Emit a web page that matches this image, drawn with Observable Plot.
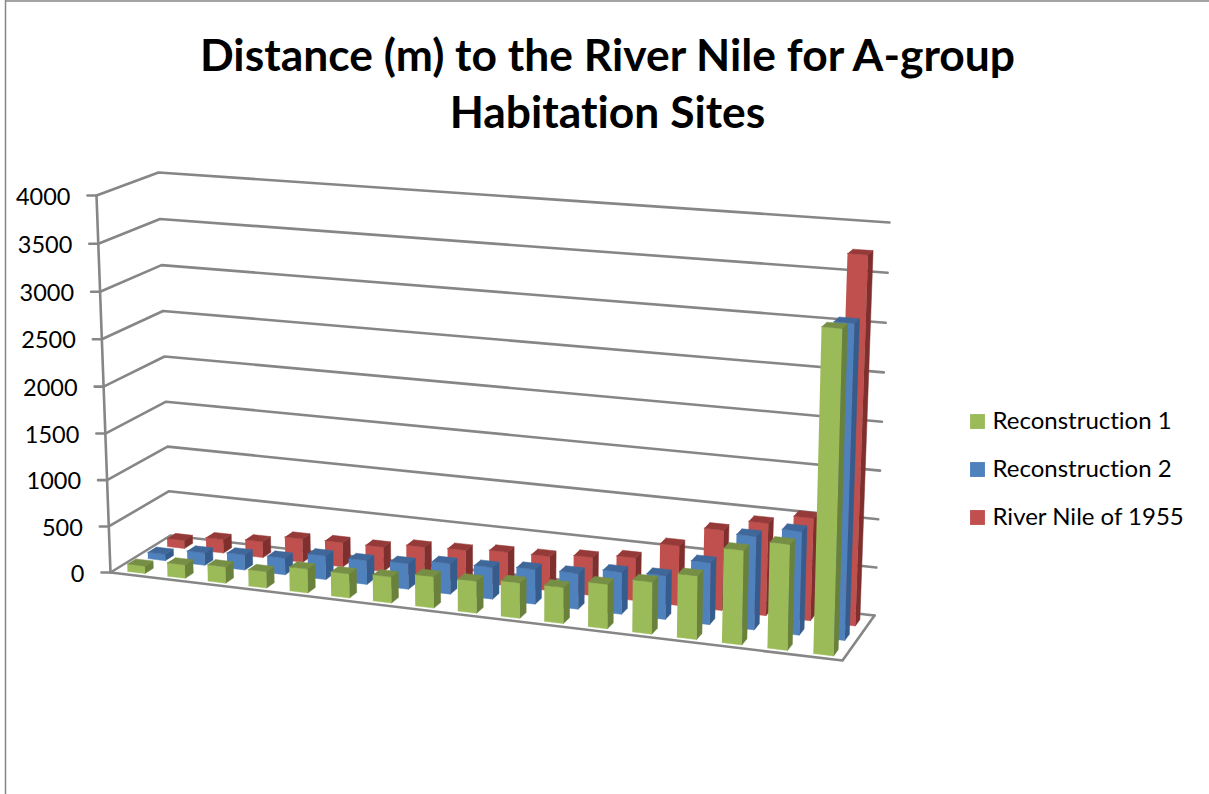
<!DOCTYPE html>
<html><head><meta charset="utf-8">
<style>html,body{margin:0;padding:0;background:#fff;overflow:hidden}svg{display:block;font-variant-ligatures:none;font-feature-settings:"liga" 0}</style>
<script src="https://cdn.jsdelivr.net/npm/d3@7"></script>
<script src="https://cdn.jsdelivr.net/npm/@observablehq/plot@0.6"></script>
</head><body><div id="chart"></div>
<script>
const titleLines = ["Distance (m) to the River Nile for A-group", "Habitation Sites"];
const ticks = [0, 500, 1000, 1500, 2000, 2500, 3000, 3500, 4000];
const reconstruction1 = [80, 145, 175, 175, 255, 255, 275, 330, 335, 370, 375, 460, 535, 650, 960, 1070, 3240];
const reconstruction2 = [70, 135, 165, 180, 255, 255, 275, 325, 335, 365, 375, 440, 455, 640, 960, 1060, 3180];
const riverNile1955 = [90, 150, 175, 255, 265, 265, 315, 330, 360, 365, 405, 450, 630, 840, 960, 1060, 3750];
const seriesNames = ["Reconstruction 1", "Reconstruction 2", "River Nile of 1955"];
const frontColors = ["#9BBB59", "#4F81BD", "#C0504D"];
const topColors = ["#768F44", "#3F679A", "#953A38"];
const sideColors = ["#6A813B", "#355C8C", "#7F2F2D"];

// Perspective box of the 3D chart: picture position of each corner
const box = {
  f0: [110, 572], f1: [842, 660], b0: [170, 535], b1: [874, 615],
  F0: [96, 195], F1: [853, 252], B0: [158, 172], B1: [889, 222]
};
const maxVal = 4000, cats = reconstruction1.length, persp = 0.925, perspZ = 0.973;
const mix = (a, b, t) => [a[0] + (b[0] - a[0]) * t, a[1] + (b[1] - a[1]) * t];
function proj(u, v, val) {
  const s = persp * u / (1 + (persp - 1) * u);
  const r = val / maxVal, w = perspZ * r / (1 + (perspZ - 1) * r);
  const floor = mix(mix(box.f0, box.f1, s), mix(box.b0, box.b1, s), v);
  const roof = mix(mix(box.F0, box.F1, s), mix(box.B0, box.B1, s), v);
  return mix(floor, roof, w);
}

const rowStart = [0.0715, 0.415, 0.74], barDepth = 0.14, barStart = 0.32, barWidth = 0.44;
const facePoints = [];
function face(id, fill, corners) {
  for (const c of corners) {
    const [x, y] = proj(...c);
    facePoints.push({id, fill, x, y});
  }
}
[riverNile1955, reconstruction2, reconstruction1].forEach((vals, k) => {
  const r = 2 - k;
  vals.forEach((val, i) => {
    const u0 = (i + barStart) / cats, u1 = (i + barStart + barWidth) / cats;
    const v0 = rowStart[r], v1 = v0 + barDepth;
    face(`${r}-${i}-front`, frontColors[r], [[u0, v0, 0], [u1, v0, 0], [u1, v0, val], [u0, v0, val]]);
    face(`${r}-${i}-side`, sideColors[r], [[u1, v0, 0], [u1, v1, 0], [u1, v1, val], [u1, v0, val]]);
    face(`${r}-${i}-top`, topColors[r], [[u0, v0, val], [u1, v0, val], [u1, v1, val], [u0, v1, val]]);
  });
});

const gridPoints = [];
ticks.forEach(t => {
  const a = proj(0, 0, t);
  [[a[0] - 9, a[1]], a, proj(0, 1, t), proj(1, 1, t)].forEach(([x, y]) => gridPoints.push({id: "g" + t, x, y}));
});
[[0,0,0],[1,0,0],[1,1,0]].forEach(c => { const [x, y] = proj(...c); gridPoints.push({id: "floor", x, y}); });
[[0,0,0],[0,0,maxVal]].forEach(c => { const [x, y] = proj(...c); gridPoints.push({id: "axis", x, y}); });

const tickLabels = ticks.map(t => { const [x, y] = proj(0, 0, t); return {t, x: x - 26, y: y + 1.5}; });
const legendRows = seriesNames.map((name, i) => ({name, color: frontColors[i], y: 421 + i * 48}));
const titleRows = titleLines.map((line, i) => ({line, y: 56 + i * 57}));
const font = "Lato";

document.getElementById("chart").append(Plot.plot({
  width: 1209, height: 794,
  marginTop: 0, marginRight: 0, marginBottom: 0, marginLeft: 0,
  x: {domain: [0, 1209], range: [0, 1209], axis: null},
  y: {domain: [0, 794], range: [0, 794], axis: null},
  marks: [
    Plot.ruleX([5], {y1: 0, y2: 794, stroke: "#868686", strokeWidth: 1.5}),
    Plot.ruleY([0.5], {x1: 5, x2: 1209, stroke: "#868686", strokeWidth: 1.5}),
    Plot.line(gridPoints, {x: "x", y: "y", z: "id", stroke: "#868686", strokeWidth: 2.6, curve: "linear"}),
    Plot.line(facePoints, {x: "x", y: "y", z: "id", fill: "fill", stroke: "fill", strokeWidth: 0.5, curve: "linear"}),
    Plot.text(tickLabels, {x: "x", y: "y", text: d => String(d.t), textAnchor: "end", fontSize: 23.5, fontFamily: font, fill: "#000"}),
    Plot.text(titleRows, {x: 607, y: "y", text: "line", textAnchor: "middle", fontSize: 44.4, fontWeight: 700, fontFamily: font, fill: "#000"}),
    Plot.dot(legendRows, {x: 977, y: "y", symbol: "square", r: 8.4, fill: "color", stroke: "none"}),
    Plot.text(legendRows, {x: 992, y: "y", text: "name", textAnchor: "start", fontSize: 24, fontFamily: font, fill: "#000"})
  ]
}));
</script></body></html>
